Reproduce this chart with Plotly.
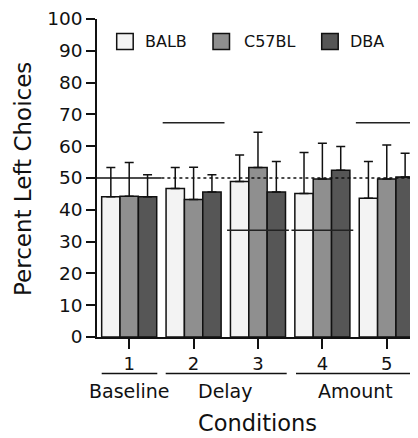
import plotly.graph_objects as go

# ---- data ----
conditions = [1, 2, 3, 4, 5]
strains = ["BALB", "C57BL", "DBA"]
balb = [44.1, 46.7, 48.9, 45.1, 43.6]
c57bl = [44.3, 43.2, 53.3, 49.7, 49.7]
dba = [44.1, 45.6, 45.6, 52.4, 50.3]
balb_err = [9.2, 6.6, 8.3, 12.9, 11.6]
c57bl_err = [10.6, 10.2, 11.1, 11.2, 10.7]
dba_err = [6.9, 5.4, 9.6, 7.5, 7.5]
chance_level = 50
pred_conditions = [2, 3, 4, 5]
pred_levels = [67.4, 33.6, 33.6, 67.4]
group_names = ["Baseline", "Delay", "Amount"]
y_ticks = [0, 10, 20, 30, 40, 50, 60, 70, 80, 90, 100]

colors = ["#f3f3f3", "#8f8f8f", "#565656"]
values = [balb, c57bl, dba]
errors = [balb_err, c57bl_err, dba_err]

FONT = "DejaVu Sans"
OFF = 8  # page body margin
W, H = 418 - OFF, 438 - OFF
ML, MR, MT, MB = 97 - OFF, 0, 17 - OFF, 101
PW, PH = W - ML - MR, H - MT - MB


def pxx(p):
    return (p - OFF - ML) / PW


def pxy(p):
    return (H - MB - (p - OFF)) / PH


fig = go.Figure()
for name, vals, errs, col in zip(strains, values, errors, colors):
    fig.add_trace(go.Bar(
        x=conditions, y=vals, name=name,
        marker=dict(color=col, line=dict(color="#111111", width=1.5)),
        error_y=dict(type="data", symmetric=False, array=errs,
                     arrayminus=[0] * len(errs), color="#111111",
                     thickness=1.5, width=4.5),
        showlegend=False,
    ))

shapes = []
# chance line
shapes.append(dict(type="line", xref="x", yref="y", x0=0.5, x1=1.5,
                   y0=chance_level, y1=chance_level,
                   line=dict(color="#111111", width=1.5), layer="above"))
shapes.append(dict(type="line", xref="x", yref="y", x0=1.5, x1=5.5,
                   y0=chance_level, y1=chance_level,
                   line=dict(color="#111111", width=1.5, dash="dot"), layer="above"))
# prediction lines
for c, lv in zip(pred_conditions, pred_levels):
    shapes.append(dict(type="line", xref="x", yref="y", x0=c - 0.48, x1=c + 0.48,
                       y0=lv, y1=lv, line=dict(color="#222222", width=1.5),
                       layer="above"))

# group underlines and labels
group_spans = [(101.7, 157.3), (165.7, 286.7), (296, 418)]
group_label_x = [129, 225.7, 355]
annotations = []
for gname, (a, b), lx in zip(group_names, group_spans, group_label_x):
    shapes.append(dict(type="line", xref="paper", yref="paper",
                       x0=pxx(a), x1=pxx(b), y0=pxy(373.7), y1=pxy(373.7),
                       line=dict(color="#111111", width=1.5)))
    annotations.append(dict(text=gname, xref="paper", yref="paper",
                            x=pxx(lx), y=pxy(391.7), xanchor="center",
                            yanchor="middle", showarrow=False,
                            font=dict(family=FONT, size=19, color="#111111")))

annotations.append(dict(text="Conditions", xref="paper", yref="paper",
                        x=pxx(257.5), y=pxy(424), xanchor="center",
                        yanchor="middle", showarrow=False,
                        font=dict(family=FONT, size=22.5, color="#111111")))
annotations.append(dict(text="Percent Left Choices", xref="paper", yref="paper",
                        x=pxx(23), y=pxy(178), xanchor="center",
                        yanchor="middle", showarrow=False, textangle=-90,
                        font=dict(family=FONT, size=23, color="#111111")))

# manual legend
legend_box_x = [116.7, 213, 321.7]
legend_text_x = [144, 243, 349]
for name, col, bx, tx in zip(strains, colors, legend_box_x, legend_text_x):
    shapes.append(dict(type="rect", xref="paper", yref="paper",
                       x0=pxx(bx), x1=pxx(bx + 16.5), y0=pxy(47.7), y1=pxy(31.7),
                       fillcolor=col, line=dict(color="#111111", width=1.5)))
    annotations.append(dict(text=name, xref="paper", yref="paper",
                            x=pxx(tx - 1.5), y=pxy(39.7), xanchor="left",
                            yanchor="middle", showarrow=False,
                            font=dict(family=FONT, size=16, color="#111111")))

fig.update_layout(
    width=W, height=H,
    margin=dict(l=ML, r=MR, t=MT, b=MB, pad=0),
    paper_bgcolor="white", plot_bgcolor="white",
    barmode="group", bargap=0.145, bargroupgap=0,
    shapes=shapes, annotations=annotations,
    font=dict(family=FONT, color="#111111"),
    xaxis=dict(range=[0.5, 5.485], tickvals=conditions,
               ticktext=[str(c) for c in conditions],
               ticks="outside", ticklen=10, tickwidth=1.5, tickcolor="#111111",
               showline=True, linecolor="#111111", linewidth=1.5,
               showgrid=False, zeroline=False, ticklabeloverflow="allow",
               tickfont=dict(family=FONT, size=18, color="#111111")),
    yaxis=dict(range=[0, 100], tickvals=y_ticks,
               ticks="outside", ticklen=9, tickwidth=1.5, tickcolor="#111111",
               showline=True, linecolor="#111111", linewidth=1.5,
               showgrid=False, zeroline=False, ticklabeloverflow="allow",
               tickfont=dict(family=FONT, size=18.5, color="#111111")),
)

fig.write_html("out.html")
